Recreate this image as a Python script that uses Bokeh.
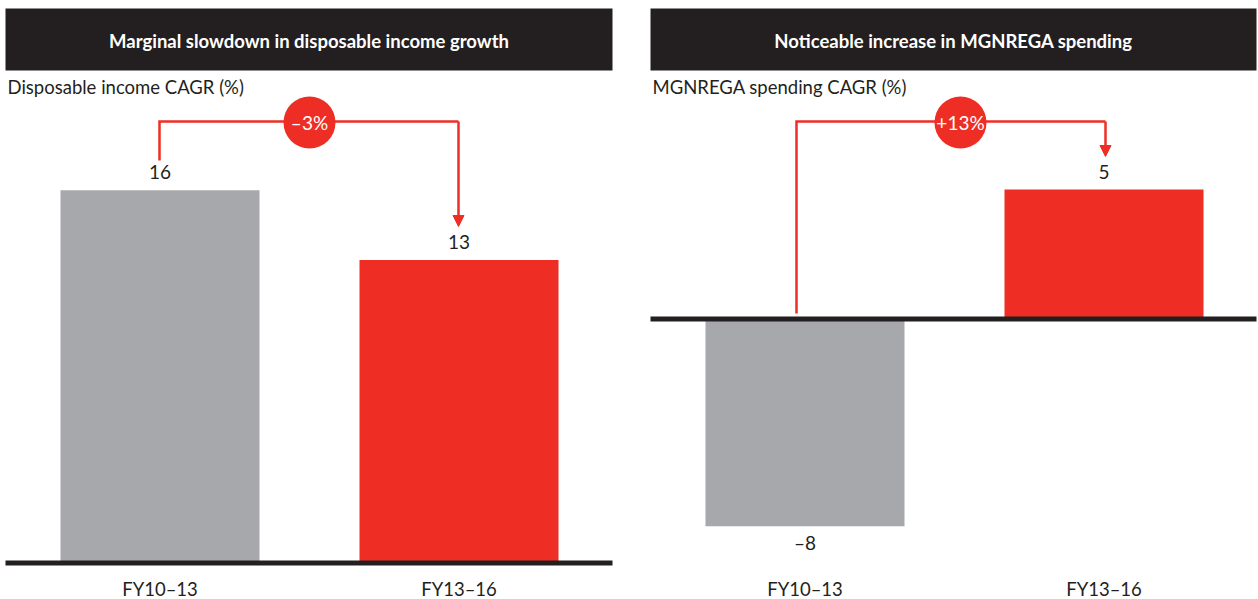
from bokeh.plotting import figure
from bokeh.layouts import row
from bokeh.models import Range1d, Arrow, NormalHead
from bokeh.core.properties import value
from bokeh.embed import file_html
from bokeh.resources import INLINE

# ---- data ----
categories = ["FY10–13", "FY13–16"]
income_cagr = [16, 13]
mgnrega_cagr = [-8, 5]
titles = ["Marginal slowdown in disposable income growth",
          "Noticeable increase in MGNREGA spending"]
subtitles = ["Disposable income CAGR (%)", "MGNREGA spending CAGR (%)"]
bar_colors = ["#A7A8AB", "#EE2E24"]

DARK = "#231F20"
RED = "#EE2E24"
FONT = "Lato"
W, H = 629, 599


def fmt(v):
    return str(v).replace("-", "–")


def panel(values, title, subtitle, offset, hx0, hx1, c0, base, ppu,
          line_x0, line_x1, line_start, tip, circ_x):
    spacing = 299.0
    fx = lambda gx: (gx - c0) / spacing
    fy = lambda py: (base - py) / ppu

    p = figure(width=W, height=H, output_backend="svg", toolbar_location=None,
               x_range=Range1d(fx(offset), fx(offset + W)),
               y_range=Range1d(fy(H), fy(0)),
               min_border=0, outline_line_color=None,
               x_axis_location=None, y_axis_location=None,
               background_fill_color="white", border_fill_color="white")
    p.xgrid.visible = False
    p.ygrid.visible = False

    xs = list(range(len(values)))
    hc = (hx0 + hx1) / 2
    # header
    p.quad(left=[fx(hx0)], right=[fx(hx1)], top=[fy(8)], bottom=[fy(70)],
           fill_color=DARK, line_color=None)
    p.text(x=[fx(hc)], y=[fy(40)], text=[title], text_align="center",
           text_baseline="middle", text_color="white", text_font=value(FONT),
           text_font_style="bold", text_font_size="18.5px")
    p.text(x=[fx(hx0 + 2)], y=[fy(86)], text=[subtitle], text_align="left",
           text_baseline="middle", text_color=DARK, text_font=value(FONT),
           text_font_size="18.5px")

    # bars
    p.vbar(x=xs, top=values, bottom=0, width=199 / spacing,
           fill_color=bar_colors, line_color=None)
    # baseline
    p.segment(x0=[fx(hx0)], y0=[0], x1=[fx(hx1)], y1=[0],
              line_color=DARK, line_width=5)

    # value labels
    ly = [v + (18 / ppu if v >= 0 else -16 / ppu) for v in values]
    p.text(x=xs, y=ly, text=[fmt(v) for v in values], text_align="center",
           text_baseline="middle", text_color=DARK, text_font=value(FONT),
           text_font_size="19px")
    # category labels
    p.text(x=xs, y=[fy(588)] * len(xs), text=categories, text_align="center",
           text_baseline="middle", text_color=DARK, text_font=value(FONT),
           text_font_size="18.5px")

    # connector
    p.line(x=[fx(line_x0), fx(line_x0), fx(line_x1)],
           y=[fy(line_start), fy(121), fy(121)],
           line_color=RED, line_width=2.5, line_join="miter")
    p.add_layout(Arrow(x_start=fx(line_x1), y_start=fy(121), x_end=fx(line_x1), y_end=fy(tip),
                       line_color=RED, line_width=2.5,
                       end=NormalHead(size=11, fill_color=RED, line_color=RED, line_width=1)))
    diff = values[1] - values[0]
    p.scatter(x=[fx(circ_x)], y=[fy(122)], size=52, marker="circle",
              fill_color=RED, line_color=None)
    p.text(x=[fx(circ_x)], y=[fy(122)], text=[fmt(f"{diff:+d}%")], text_align="center",
           text_baseline="middle", text_color="white", text_font=value(FONT),
           text_font_size="19px")
    return p


left = panel(income_cagr, titles[0], subtitles[0], offset=0, hx0=5, hx1=612,
             c0=159.5, base=562.5, ppu=23.3,
             line_x0=159, line_x1=458, line_start=160, tip=226, circ_x=309)
right = panel(mgnrega_cagr, titles[1], subtitles[1], offset=629, hx0=650, hx1=1256,
              c0=804.5, base=318.5, ppu=25.9,
              line_x0=796, line_x1=1105, line_start=313, tip=156, circ_x=960)

layout = row(left, right)
open("out.html", "w").write(file_html(layout, INLINE))
